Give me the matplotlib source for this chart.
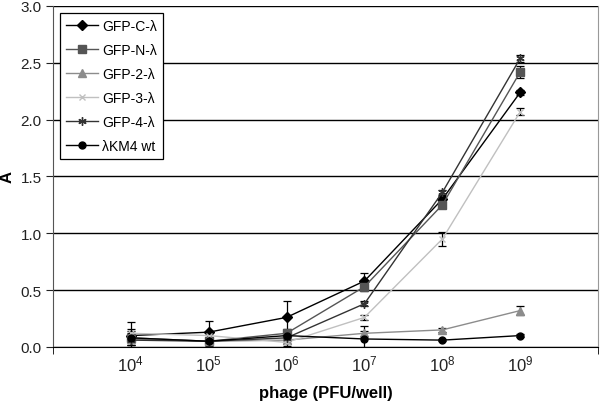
import matplotlib
matplotlib.use("Agg")
from matplotlib import pyplot as plt
from matplotlib.lines import Line2D

plt.rcParams['font.family'] = ['Liberation Sans', 'DejaVu Sans']

# phage amount per well
phage = [1e4, 1e5, 1e6, 1e7, 1e8, 1e9]

# absorbance per construct
gfp_c = [0.10, 0.13, 0.26, 0.58, 1.30, 2.24]
gfp_c_err = [0.12, 0.10, 0.14, 0.07, 0.03, 0.02]
gfp_n = [0.08, 0.05, 0.12, 0.53, 1.25, 2.42]
gfp_n_err = [0.06, 0.03, 0.04, 0.04, 0.03, 0.05]
gfp_2 = [0.07, 0.05, 0.06, 0.12, 0.15, 0.32]
gfp_2_err = [0.05, 0.02, 0.03, 0.02, 0.02, 0.04]
gfp_3 = [0.12, 0.10, 0.04, 0.26, 0.95, 2.07]
gfp_3_err = [0.04, 0.03, 0.03, 0.02, 0.06, 0.03]
gfp_4 = [0.06, 0.05, 0.08, 0.38, 1.36, 2.54]
gfp_4_err = [0.04, 0.02, 0.03, 0.02, 0.02, 0.03]
wt = [0.08, 0.05, 0.10, 0.07, 0.06, 0.10]
wt_err = [0.03, 0.04, 0.04, 0.11, 0.01, 0.01]

series = [
    ("GFP-C-λ", gfp_c, gfp_c_err, "#000000", "D", 5),
    ("GFP-N-λ", gfp_n, gfp_n_err, "#555555", "s", 6),
    ("GFP-2-λ", gfp_2, gfp_2_err, "#8c8c8c", "^", 6),
    ("GFP-3-λ", gfp_3, gfp_3_err, "#c0c0c0", "x", 5),
    ("GFP-4-λ", gfp_4, gfp_4_err, "#333333", (6, 2, 0), 6),
    ("λKM4 wt", wt, wt_err, "#000000", "o", 5),
]

fig = plt.figure(figsize=(6.0, 4.06), dpi=100)
ax = fig.add_axes([0.088, 0.143, 0.909, 0.840])

handles = []
for name, vals, errs, color, marker, size in series:
    ax.errorbar(phage, vals, yerr=errs, color=color, marker=marker,
                markersize=size, linewidth=1.0, elinewidth=0.9,
                ecolor="#000000", capsize=3, capthick=0.9)
    handles.append(Line2D([], [], color=color, marker=marker,
                          markersize=size, linewidth=1.0, label=name))

ax.set_xscale("log")
ax.set_xlim(1e3, 1e10)
ax.set_ylim(0, 3.0)
ax.set_yticks([0, 0.5, 1.0, 1.5, 2.0, 2.5, 3.0])
ax.set_yticklabels(["0.0", "0.5", "1.0", "1.5", "2.0", "2.5", "3.0"])
ax.set_xticks(phage)
ax.set_xticklabels([r"$\mathregular{10^{%d}}$" % i for i in range(4, 10)])
# only the two ends of the x axis carry a tick mark
ax.xaxis.set_minor_locator(matplotlib.ticker.FixedLocator([1e3, 1e10]))
ax.xaxis.set_minor_formatter(matplotlib.ticker.NullFormatter())
ax.tick_params(axis="x", which="major", length=0, pad=5, labelsize=12,
               colors="#222222")
ax.tick_params(axis="x", which="minor", length=5, direction="out",
               color="#000000")
ax.tick_params(axis="y", length=5, direction="out", labelsize=11,
               colors="#222222", pad=3)

ax.yaxis.grid(True, color="#000000", linewidth=1.0)
ax.set_axisbelow(True)
ax.spines["top"].set_visible(False)
ax.spines["right"].set_color("#999999")
ax.spines["left"].set_color("#555555")
ax.spines["bottom"].set_color("#000000")

ax.set_xlabel("phage (PFU/well)", fontsize=12, fontweight="bold")
ax.xaxis.set_label_coords(0.5, -0.113)
ax.set_ylabel("A", fontsize=12, fontweight="bold")
ax.yaxis.set_label_coords(-0.07, 0.5)

leg = ax.legend(handles=handles, loc="upper left",
                bbox_to_anchor=(0.013, 0.98), fontsize=10,
                frameon=True, fancybox=False, edgecolor="#000000",
                framealpha=1.0, handlelength=2.3, labelspacing=0.72,
                borderpad=0.45, handletextpad=0.3, borderaxespad=0.0)
leg.get_frame().set_linewidth(0.9)

fig.savefig("out.png", dpi=100)
